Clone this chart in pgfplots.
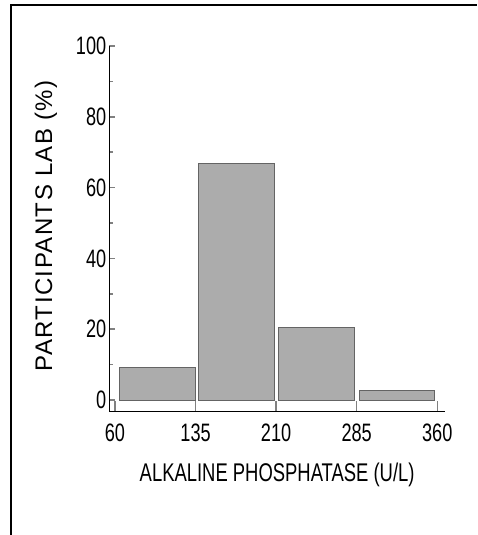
\documentclass[border=0pt]{standalone}
\usepackage{fontspec}
\setmainfont{Liberation Sans}
\newfontfamily\narrow[FakeStretch=0.72]{Liberation Sans}
\newfontfamily\spaced[LetterSpace=6]{Liberation Sans}
\usepackage{pgfplots}
\pgfplotsset{compat=1.18}
\definecolor{barfill}{RGB}{172,172,172}
\definecolor{baredge}{RGB}{100,100,100}
\begin{document}
\begin{tikzpicture}
% 1 px of the reference = 0.5pt
\useasboundingbox (0,0) rectangle (238.5pt,267.5pt);
\draw[line width=1pt] (5.5pt,0) -- (5.5pt,265pt) -- (238.5pt,265pt);
\begin{axis}[
  at={(54.65pt,61.65pt)}, anchor=south west,
  scale only axis, width=167.85pt, height=182.85pt,
  xmin=54.7, xmax=367.2, ymin=-3.3, ymax=100,
  axis lines*=left,
  axis line style={line width=0.75pt},
  tick align=inside,
  xtick={60,135,210,285,360},
  ytick={0,20,...,100},
  minor y tick num=1,
  xtick style={line width=0.75pt, /pgfplots/major tick length=5.5pt},
  ytick style={line width=0.75pt, /pgfplots/major tick length=3pt},
  minor tick length=2pt,
  /pgf/number format/assume math mode=true,
  ticklabel style={font=\narrow\fontsize{12.6}{14}\selectfont},
  xticklabel style={yshift=-2.5pt},
  yticklabel style={xshift=2pt},
  xlabel={ALKALINE PHOSPHATASE (U/L)},
  xlabel style={font=\narrow\fontsize{12.8}{14}\selectfont, anchor=base,
    at={(axis description cs:0.5,0)}, yshift=-35pt},
  ylabel={PARTICIPANTS LAB (\%)},
  % the label is already rotated by 90 degrees: its xshift goes up, its yshift goes left
  ylabel style={font=\spaced\fontsize{12}{14}\selectfont, anchor=base,
    at={(axis description cs:0,0.5)}, xshift=1.5pt, yshift=28.65pt},
]
\addplot[ybar, bar width=70.5, bar shift=0pt, fill=barfill, draw=baredge, line width=0.5pt]
  coordinates {(99.3,9.2) (173.3,66.8) (247.3,20.4) (322.5,2.6)};
\end{axis}
\end{tikzpicture}
\end{document}
